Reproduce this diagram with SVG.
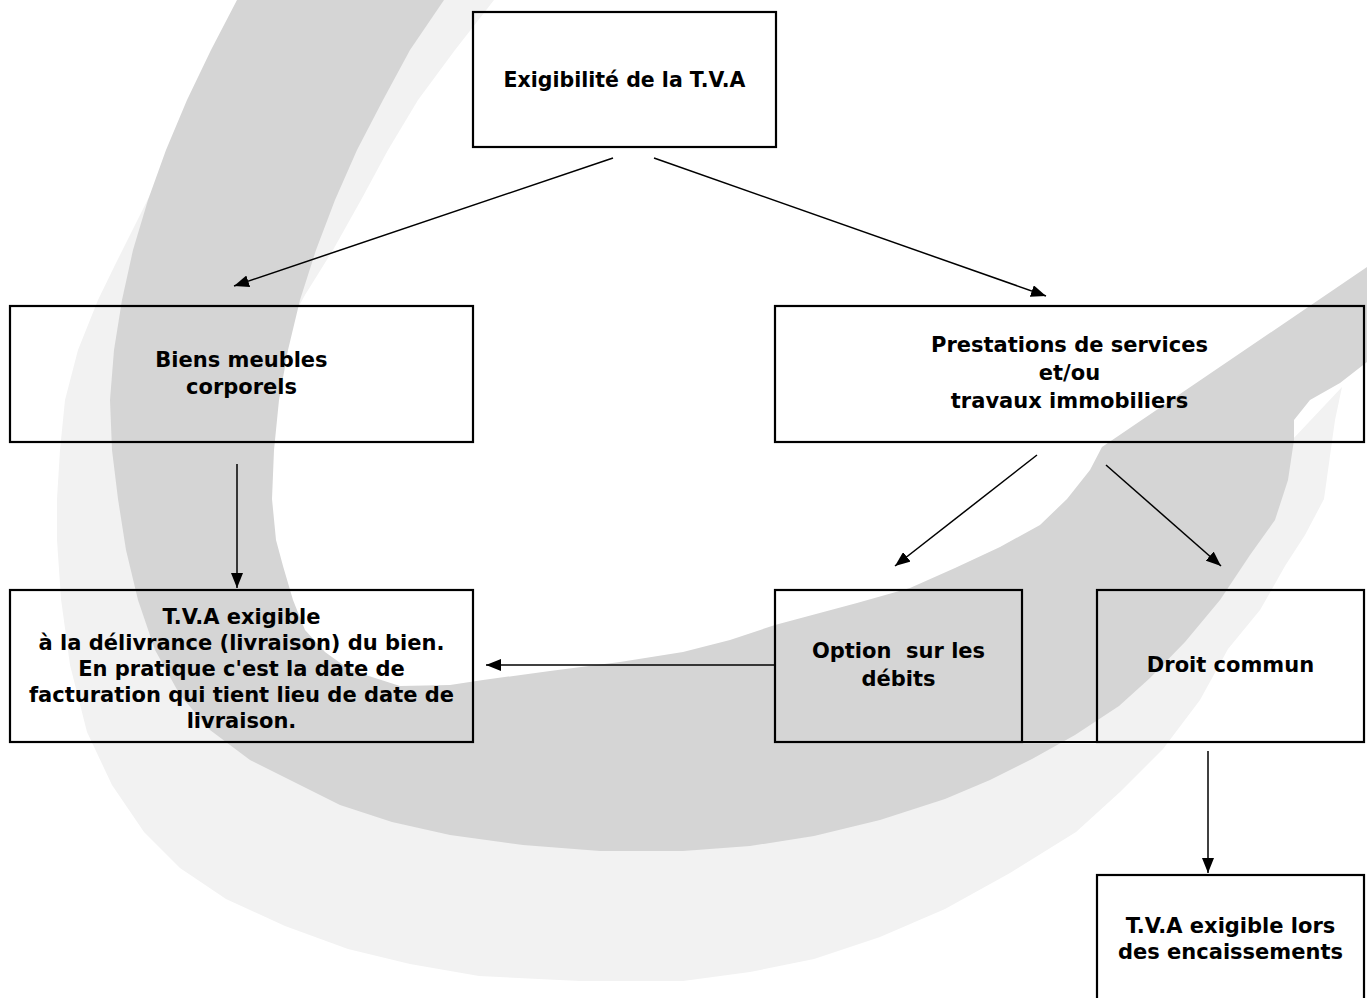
<svg xmlns="http://www.w3.org/2000/svg" width="1367" height="998" viewBox="0 0 1367 998">
<style>
.box{fill:none;stroke:#000;stroke-width:2.2}
.t{font-family:"DejaVu Sans",Verdana,sans-serif;font-weight:bold;font-size:21px;fill:#000;text-anchor:middle;white-space:pre}
.c{fill:none;stroke:#000;stroke-width:1.5}
</style>
<defs>
<marker id="ah" markerUnits="userSpaceOnUse" markerWidth="15" markerHeight="12" refX="15" refY="6" orient="auto">
<path d="M0,0 L15,6 L0,12 z" fill="#000"/>
</marker>
</defs>
<rect width="1367" height="998" fill="#fff"/>
<g id="swoosh" stroke-linejoin="round">
<path fill="#f2f2f2" d="M250,0 L494,0 L455,50 L418,100 L388,150 L361,200 L333,250 L305,295 L275,350 L255,420 L250,500 L262,580 L300,660 L380,740 L500,790 L683,800 L850,780 L1000,730 L1120,650 L1220,560 L1270,490 L1292,440 L1342,387 L1335,420 L1324,499 L1305,535 L1285,566 L1260,610 L1228,649 L1200,700 L1163,749 L1120,792 L1076,832 L1010,873 L945,909 L880,937 L814,959 L750,972 L683,981 L580,981 L479,976 L410,964 L348,949 L285,926 L226,899 L180,868 L144,832 L112,785 L87,732 L70,665 L61,599 L57,540 L57,499 L60,450 L65,400 L78,350 L98,300 L115,265 L131,233 L160,175 L190,120 L220,60 Z"/>
<path fill="#d5d5d5" d="M237,0 L444,0 L410,50 L383,100 L357,150 L335,200 L316,250 L300,300 L288,350 L279,400 L274,450 L272,499 L276,540 L283,566 L293,600 L305,630 L325,652 L350,670 L400,686 L450,685 L483,680 L550,671 L620,662 L683,652 L730,640 L775,625 L857,603 L910,588 L955,568 L1000,547 L1040,525 L1067,499 L1090,470 L1102,447 L1367,267 L1367,362 L1340,383 L1310,400 L1294,420 L1294,440 L1288,480 L1275,520 L1250,555 L1220,600 L1185,642 L1150,678 L1119,706 L1075,735 L1032,759 L990,780 L945,799 L880,820 L814,836 L750,846 L683,851 L600,851 L523,845 L450,835 L392,822 L340,805 L300,785 L250,760 L210,730 L180,695 L155,650 L138,600 L126,550 L118,499 L112,450 L110,400 L114,350 L122,300 L133,250 L148,200 L166,150 L187,100 L211,50 Z"/>
</g>
<g id="connectors">
<line class="c" x1="613" y1="158" x2="234" y2="286" marker-end="url(#ah)"/>
<line class="c" x1="654" y1="158" x2="1046" y2="296" marker-end="url(#ah)"/>
<line class="c" x1="237" y1="464" x2="237" y2="588" marker-end="url(#ah)"/>
<line class="c" x1="1037" y1="455" x2="895" y2="566" marker-end="url(#ah)"/>
<line class="c" x1="1106" y1="465" x2="1221" y2="566" marker-end="url(#ah)"/>
<line class="c" x1="775" y1="665" x2="486" y2="665" marker-end="url(#ah)"/>
<line class="c" x1="1208" y1="751" x2="1208" y2="873" marker-end="url(#ah)"/>
</g>
<g id="n-exigibilite">
<rect class="box" x="473" y="12" width="303" height="135"/>
<text class="t" x="624.5" y="87" style="font-size:20.5px">Exigibilité de la T.V.A</text>
</g>
<g id="n-biens">
<rect class="box" x="10" y="306" width="463" height="136"/>
<text class="t" x="241.5" y="367">Biens meubles</text>
<text class="t" x="241.5" y="394">corporels</text>
</g>
<g id="n-prestations">
<rect class="box" x="775" y="306" width="589" height="136"/>
<text class="t" x="1069.5" y="352">Prestations de services</text>
<text class="t" x="1069.5" y="380">et/ou</text>
<text class="t" x="1069.5" y="408">travaux immobiliers</text>
</g>
<g id="n-tva-livraison">
<rect class="box" x="10" y="590" width="463" height="152"/>
<text class="t" x="241.5" y="624">T.V.A exigible</text>
<text class="t" x="241.5" y="650">à la délivrance (livraison) du bien.</text>
<text class="t" x="241.5" y="676">En pratique c'est la date de</text>
<text class="t" x="241.5" y="702">facturation qui tient lieu de date de</text>
<text class="t" x="241.5" y="728">livraison.</text>
</g>
<g id="n-option">
<rect class="box" x="775" y="590" width="247" height="152"/>
<line class="box" x1="1022" y1="742" x2="1097" y2="742"/>
<text class="t" x="898.5" y="658">Option  sur les</text>
<text class="t" x="898.5" y="686">débits</text>
</g>
<g id="n-droit">
<rect class="box" x="1097" y="590" width="267" height="152"/>
<text class="t" x="1230.5" y="672">Droit commun</text>
</g>
<g id="n-encaissements">
<rect class="box" x="1097" y="875" width="267" height="130"/>
<text class="t" x="1230.5" y="933">T.V.A exigible lors</text>
<text class="t" x="1230.5" y="959">des encaissements</text>
</g>
</svg>
